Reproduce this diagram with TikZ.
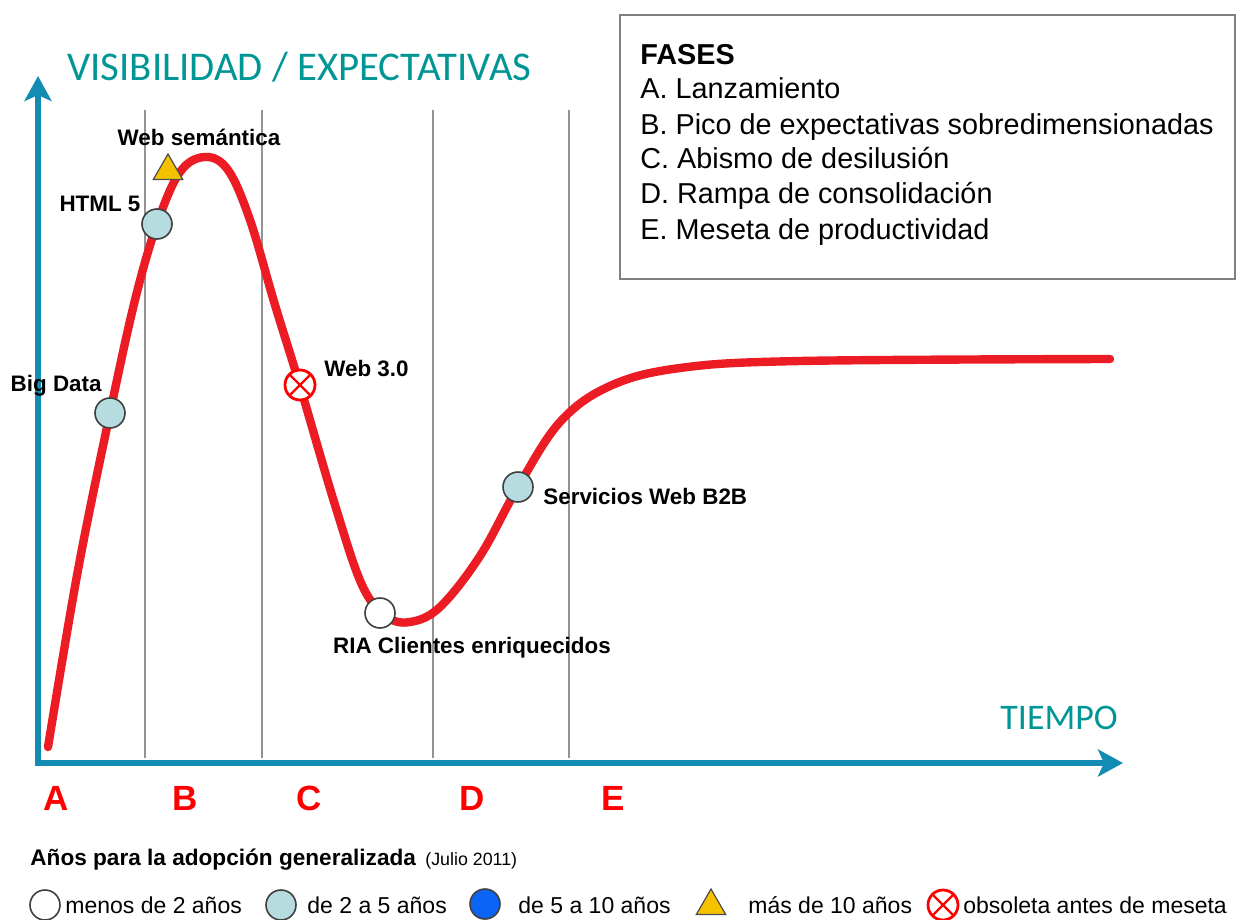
\documentclass[tikz,border=0pt]{standalone}
\usepackage{fontspec}
\setmainfont{Liberation Sans}
\newfontfamily\axisfont{Carlito}
\usetikzlibrary{shapes.geometric,arrows.meta}

\definecolor{axisblue}{RGB}{18,140,178}
\definecolor{axisteal}{RGB}{0,150,150}
\definecolor{hypered}{RGB}{236,28,36}
\definecolor{paleblue}{RGB}{182,220,224}
\definecolor{markblue}{RGB}{10,100,245}
\definecolor{markyellow}{RGB}{246,194,0}

\begin{document}
\begin{tikzpicture}[x=0.5pt, y=-0.5pt,
		axis/.style={{Stealth[length=12.5pt,width=13.5pt,inset=3pt]}-{Stealth[length=12.5pt,width=13.5pt,inset=3pt]}, draw=axisblue, line width=2.6pt},
		phaseline/.style={draw=gray!85, line width=0.8pt},
		hype/.style={draw=hypered, line width=4.2pt, line cap=round},
		dot/.style={circle, draw=black!75, line width=0.8pt, minimum size=15pt, inner sep=0pt},
		under2/.style={dot, fill=white},
		from2to5/.style={dot, fill=paleblue},
		from5to10/.style={dot, fill=markblue},
		over10/.style={regular polygon, regular polygon sides=3, draw=black!70, line width=0.6pt, fill=markyellow, minimum size=17pt, inner sep=0pt},
		obsolete/.style={circle, draw=red, line width=1.4pt, fill=white, minimum size=15pt, inner sep=0pt,
			path picture={\draw[red, line width=1.2pt] (path picture bounding box.north west) -- (path picture bounding box.south east)
				(path picture bounding box.north east) -- (path picture bounding box.south west);}},
		tech/.style={font=\fontsize{11.2}{13}\selectfont\bfseries, inner sep=0pt},
		axislabel/.style={font=\axisfont\fontsize{20.4}{24}\selectfont, text=axisteal, inner sep=0pt, anchor=base west},
		letter/.style={font=\fontsize{17.5}{20}\selectfont\bfseries, text=red, inner sep=0pt, anchor=base},
		keyline/.style={font=\fontsize{14.4}{17}\selectfont, inner sep=0pt, anchor=base west},
		keytext/.style={font=\fontsize{11.5}{14}\selectfont, inner sep=0pt, anchor=base west}
	]

	\useasboundingbox (0,0) rectangle (1237,920);

	% ejes
	\coordinate (origin) at (38,763);
	\coordinate (ytip) at (38,76);
	\coordinate (xtip) at (1123,763);
	\draw[axis] (ytip) -- (origin) -- (xtip);
	\node[axislabel] (visibilidad) at (67,81) {VISIBILIDAD / EXPECTATIVAS};
	\node[axislabel, font=\axisfont\fontsize{18}{22}\selectfont] (tiempo) at (1000,729) {TIEMPO};

	% fases
	\foreach \x in {145,262,433,569}
		\draw[phaseline] (\x,110) -- (\x,758);
	\foreach \l/\x in {A/56,B/185,C/309,D/472,E/613}
		\node[letter] (fase\l) at (\x,810) {\l};

	\draw[hype] plot[smooth, tension=0.6] coordinates {(48,747) (78,570) (110,413) (135,300) (157,224) (180,172) (205,157) (228,170) (250,220) (275,305) (300,386) (335,505) (362,585) (386,616) (410,622) (440,607) (480,556) (518,487) (560,422) (610,386) (680,368) (800,361) (1110,359)};

	% tecnologias
	\node[from2to5] (bigdata) at (110,413) {};
	\node[tech, anchor=east] (bigdatatxt) at (102,386) {Big Data};
	\node[from2to5] (html) at (157,224) {};
	\node[tech] (htmltxt) at (100,204) {HTML 5};
	\node[over10] (websem) at (168,171) {};
	\node[tech] (websemtxt) at (199,137) {Web semántica};
	\node[obsolete] (web3) at (300,385) {};
	\node[tech, anchor=west] (web3txt) at (324,369) {Web 3.0};
	\node[under2] (ria) at (380,613) {};
	\node[tech] (riatxt) at (472,648) {RIA Clientes enriquecidos};
	\node[from2to5] (b2b) at (518,487) {};
	\node[tech, anchor=west] (b2btxt) at (543,496) {Servicios Web B2B};

	% cuadro de fases
	\draw[draw=gray, line width=0.9pt] (620,15) rectangle (1235,279);
	\node[keyline, font=\fontsize{14.4}{17}\selectfont\bfseries] (fases) at (640,65) {FASES};
	\foreach \t [count=\i] in {A. Lanzamiento, B. Pico de expectativas sobredimensionadas, C. Abismo de desilusión, D. Rampa de consolidación, E. Meseta de productividad}
		\node[keyline] (fase\i) at (640,{64+35*\i}) {\t};

	% leyenda
	\node[keytext, font=\fontsize{11.3}{14}\selectfont\bfseries] (adopcion) at (30,865) {Años para la adopción generalizada};
	\node[keytext, font=\fontsize{8.9}{11}\selectfont] (julio) at (425,865) {(Julio 2011)};
	\node[under2] (key1) at (45,905) {};
	\node[keytext] (key1txt) at (65,913) {menos de 2 años};
	\node[from2to5] (key2) at (281,905) {};
	\node[keytext] (key2txt) at (307,913) {de 2 a 5 años};
	\node[from5to10] (key3) at (485,904) {};
	\node[keytext] (key3txt) at (518,913) {de 5 a 10 años};
	\node[over10] (key4) at (711,906) {};
	\node[keytext] (key4txt) at (748,913) {más de 10 años};
	\node[obsolete] (key5) at (943,905) {};
	\node[keytext] (key5txt) at (963,913) {obsoleta antes de meseta};

\end{tikzpicture}
\end{document}
